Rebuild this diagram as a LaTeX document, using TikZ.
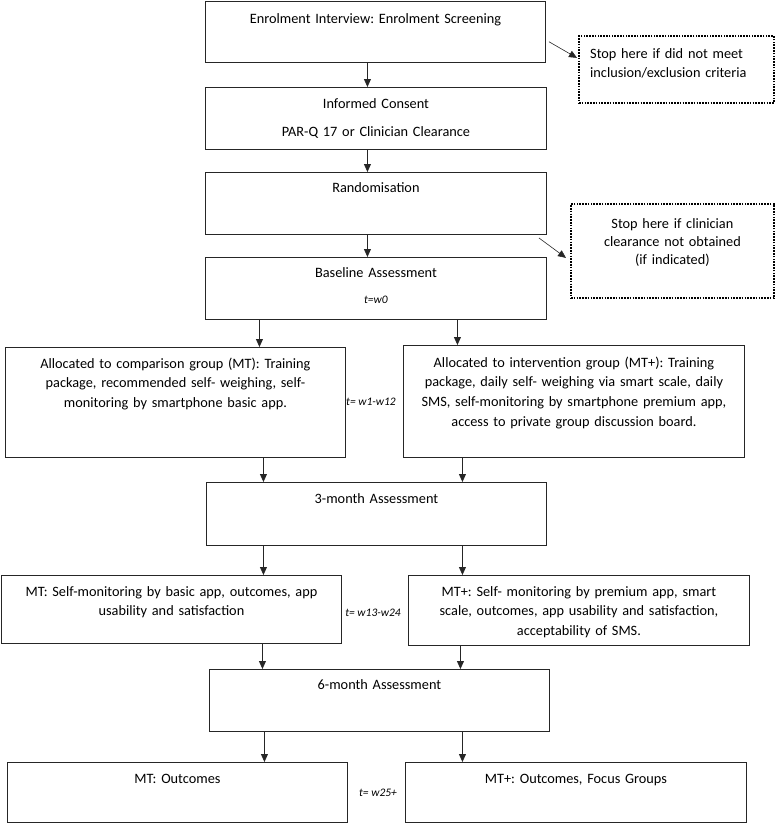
\documentclass[tikz,border=0pt]{standalone}
\usepackage{fontspec}
\setmainfont{Carlito}
\frenchspacing
\usetikzlibrary{arrows.meta}
\begin{document}
\begin{tikzpicture}[x=1pt,y=-1pt,
  box/.style={draw=black!85, line width=0.9pt, rectangle, inner sep=0pt, anchor=north west},
  stopbox/.style={draw=black, line width=1.8pt, dash pattern=on 1.6pt off 1.2pt, rectangle, inner sep=0pt, anchor=north west},
  txt/.style={font=\fontsize{14.3}{19.7}\selectfont, align=center, inner sep=0pt, anchor=base, text width=336pt},
  tlab/.style={font=\fontsize{11.5}{13}\selectfont\itshape, inner sep=0pt},
  arr/.style={-{Triangle[length=8pt,width=7pt]}, line width=0.8pt, draw=black!85}]
\useasboundingbox (0,0) rectangle (776,823);
% boxes
\node[box, minimum width=340pt, minimum height=61.5pt] (b1) at (205,0.5) {};
\node[box, minimum width=341pt, minimum height=62pt] (b2) at (205,87) {};
\node[box, minimum width=341pt, minimum height=62pt] (b3) at (205,172) {};
\node[box, minimum width=341pt, minimum height=62pt] (b4) at (205,257) {};
\node[box, minimum width=340pt, minimum height=110pt] (b5l) at (5,347) {};
\node[box, minimum width=341pt, minimum height=112pt] (b5r) at (403,345) {};
\node[box, minimum width=340pt, minimum height=63pt] (b6) at (206,482) {};
\node[box, minimum width=340pt, minimum height=68pt] (b7l) at (1,575) {};
\node[box, minimum width=341pt, minimum height=70pt] (b7r) at (408,575) {};
\node[box, minimum width=340pt, minimum height=62pt] (b8) at (209,669) {};
\node[box, minimum width=340pt, minimum height=60pt] (b9l) at (7,762) {};
\node[box, minimum width=341pt, minimum height=60pt] (b9r) at (405,762) {};
\node[stopbox, minimum width=195pt, minimum height=67pt] (s1) at (578,35) {};
\node[stopbox, minimum width=203pt, minimum height=94pt] (s2) at (570,203) {};
% texts
\node[txt] (x1) at ([yshift=-23pt]b1.north) {Enrolment Interview: Enrolment Screening};
\node[txt] (x2) at ([yshift=-21pt]b2.north) {Informed Consent\\[9pt]PAR-Q 17 or Clinician Clearance};
\node[txt] (x3) at ([yshift=-20pt]b3.north) {Randomisation};
\node[txt] (x4) at ([yshift=-20pt]b4.north) {Baseline Assessment};
\node[tlab] (w0) at ([yshift=-43pt]b4.north) {t=w0};
\node[txt] (x5l) at ([yshift=-21pt]b5l.north) {Allocated to comparison group (MT): Training\\package, recommended self- weighing, self-\\monitoring by smartphone basic app.};
\node[txt] (x5r) at ([yshift=-22pt]b5r.north) {Allocated to intervention group (MT+): Training\\package, daily self- weighing via smart scale, daily\\SMS, self-monitoring by smartphone premium app,\\access to private group discussion board.};
\node[tlab] (w1) at (371,402) {t= w1-w12};
\node[txt] (x6) at ([yshift=-21pt]b6.north) {3-month Assessment};
\node[txt] (x7l) at ([yshift=-21pt]b7l.north) {MT: Self-monitoring by basic app, outcomes, app\\usability and satisfaction};
\node[txt] (x7r) at ([yshift=-21pt]b7r.north) {MT+: Self- monitoring by premium app, smart\\scale, outcomes, app usability and satisfaction,\\acceptability of SMS.};
\node[tlab] (w2) at (373,613) {t= w13-w24};
\node[txt] (x8) at ([yshift=-20pt]b8.north) {6-month Assessment};
\node[txt] (x9l) at ([yshift=-21pt]b9l.north) {MT: Outcomes};
\node[txt] (x9r) at ([yshift=-21pt]b9r.north) {MT+: Outcomes, Focus Groups};
\node[tlab] (w3) at (378,793) {t= w25+};
\node[txt, align=left, text width=180pt, anchor=base west] (xs1) at ([shift={(12,23)}]s1.north west) {Stop here if did not meet\\inclusion/exclusion criteria};
\node[txt, text width=195pt, font=\fontsize{14.3}{18}\selectfont] (xs2) at ([yshift=-25pt]s2.north) {Stop here if clinician\\clearance not obtained\\(if indicated)};
% connectors
\draw[arr] ([xshift=-8pt]b1.south) -- ([xshift=-8pt]b1.south |- b2.north);
\draw[arr] ([xshift=-8.5pt]b2.south) -- ([xshift=-8.5pt]b2.south |- b3.north);
\draw[arr] ([xshift=-8.5pt]b3.south) -- ([xshift=-8.5pt]b3.south |- b4.north);
\draw[arr] ([xshift=-116.5pt]b4.south) -- ([xshift=-116.5pt]b4.south |- b5l.north);
\draw[arr] ([xshift=81.5pt]b4.south) -- ([xshift=81.5pt]b4.south |- b5r.north);
\draw[arr] ([xshift=88pt]b5l.south) -- ([xshift=88pt]b5l.south |- b6.north);
\draw[arr] ([xshift=-111.5pt]b5r.south) -- ([xshift=-111.5pt]b5r.south |- b6.north);
\draw[arr] ([xshift=-113pt]b6.south) -- ([xshift=-113pt]b6.south |- b7l.north);
\draw[arr] ([xshift=86pt]b6.south) -- ([xshift=86pt]b6.south |- b7r.north);
\draw[arr] ([xshift=91pt]b7l.south) -- ([xshift=91pt]b7l.south |- b8.north);
\draw[arr] ([xshift=-118.5pt]b7r.south) -- ([xshift=-118.5pt]b7r.south |- b8.north);
\draw[arr] ([xshift=-115pt]b8.south) -- ([xshift=-115pt]b8.south |- b9l.north);
\draw[arr] ([xshift=83pt]b8.south) -- ([xshift=83pt]b8.south |- b9r.north);
\draw[arr, line width=0.6pt] ([shift={(3,10)}]b1.east) -- ([shift={(-1,-11.5)}]s1.west);
\draw[arr, line width=0.6pt] ([shift={(-8,3)}]b3.south east) -- ([shift={(-4,7)}]s2.west);
\end{tikzpicture}
\end{document}
